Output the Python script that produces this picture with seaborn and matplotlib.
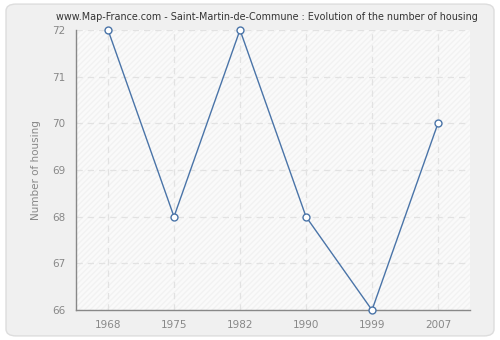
import matplotlib
matplotlib.use("Agg")
import matplotlib.pyplot as plt
import seaborn as sns
import pandas as pd
import numpy as np
from matplotlib.patches import FancyBboxPatch, Rectangle

years = ["1968", "1975", "1982", "1990", "1999", "2007"]
housing = [72, 68, 72, 68, 66, 70]
yticks = [66, 67, 68, 69, 70, 71, 72]

df = pd.DataFrame({"pos": np.arange(len(years)), "year": years, "housing": housing})

sns.set_style("white")
plt.rcParams['font.family'] = ['DejaVu Sans']

fig = plt.figure(figsize=(5, 3.4), dpi=100)
fig.patch.set_facecolor("white")
bg = FancyBboxPatch((0.012, 0.012), 0.976, 0.976, boxstyle="round,pad=0,rounding_size=0.02",
                    transform=fig.transFigure, facecolor="#f0f0f0", edgecolor="#dddddd",
                    linewidth=1, zorder=-10)
fig.patches.append(bg)

ax = fig.add_axes([0.152, 0.088, 0.788, 0.824])
ax.set_facecolor("#fafafa")
hatch = Rectangle((0, 0), 1, 1, transform=ax.transAxes, facecolor="none",
                  edgecolor="#f2f2f2", hatch="//////", linewidth=0, zorder=0)
ax.add_patch(hatch)

sns.lineplot(data=df, x="pos", y="housing", ax=ax, color="#4a74a8", linewidth=1,
             marker="o", markersize=5, markerfacecolor="white",
             markeredgecolor="#4a74a8", markeredgewidth=1, zorder=5, clip_on=False)

ax.set_xlim(-0.485, 5.485)
ax.set_ylim(66, 72)
ax.set_xticks(df["pos"])
ax.set_xticklabels(years)
ax.set_yticks(yticks)
ax.grid(True, color="#e2e2e2", linestyle=(0, (5, 4)), linewidth=0.9)
ax.set_axisbelow(True)
for s in ["top", "right"]:
    ax.spines[s].set_visible(False)
for s in ["left", "bottom"]:
    ax.spines[s].set_color("#888888")
    ax.spines[s].set_linewidth(1)
ax.tick_params(axis="both", colors="#888888", labelcolor="#888888", labelsize=7.5,
               length=4, width=1, direction="out")
ax.set_xlabel("")
ax.set_ylabel("Number of housing", color="#888888", fontsize=7.5, labelpad=8)
fig.text(0.534, 0.95, "www.Map-France.com - Saint-Martin-de-Commune : Evolution of the number of housing",
         ha="center", va="center", fontsize=6.9, color="#333333")

fig.savefig("out.png", dpi=100)
